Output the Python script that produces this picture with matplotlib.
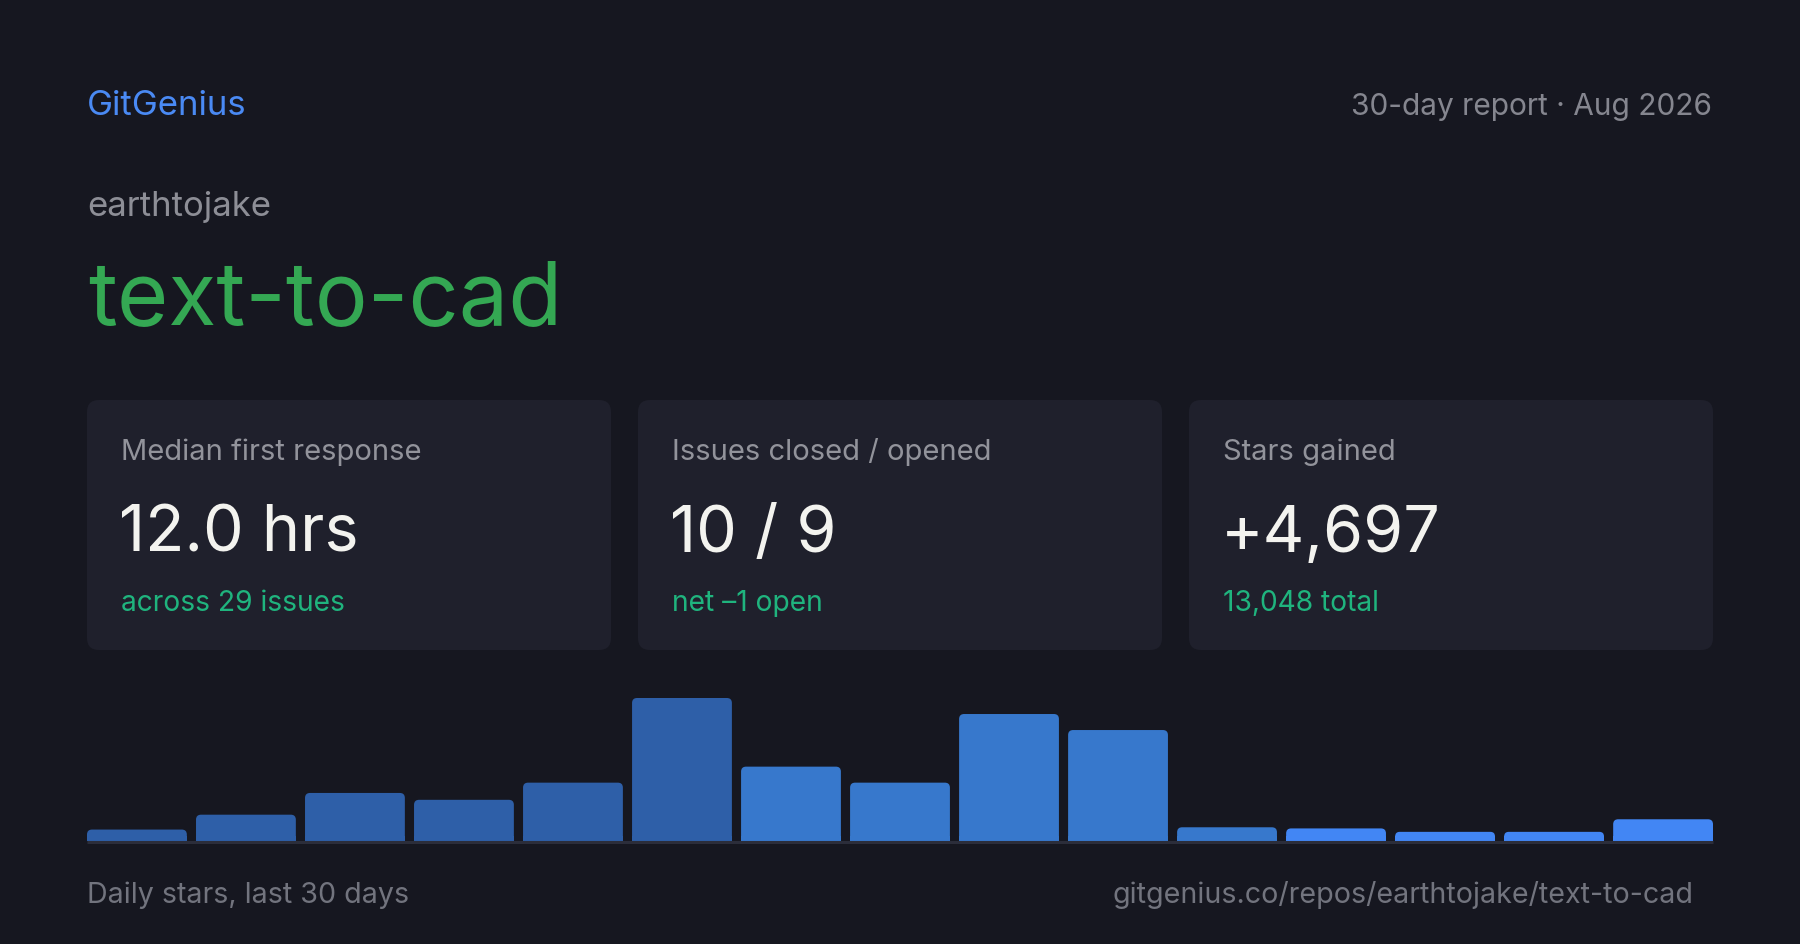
import matplotlib
matplotlib.use("Agg")
import matplotlib.pyplot as plt
from matplotlib.patches import FancyBboxPatch, Rectangle

plt.rcParams['font.family'] = ['Inter', 'DejaVu Sans']

# data
brand = "GitGenius"
report = "30-day report \u00b7 Aug 2026"
owner = "earthtojake"
repo = "text-to-cad"
card_labels = ["Median first response", "Issues closed / opened", "Stars gained"]
card_values = ["12.0 hrs", "10 / 9", "+4,697"]
card_notes = ["across 29 issues", "net \u20131 open", "13,048 total"]
daily_stars = [70, 161, 294, 252, 357, 875, 455, 357, 777, 679, 84, 77, 56, 56, 133]
bar_colors = ["#2e5fa8"] * 6 + ["#3778cc"] * 5 + ["#4286f4"] * 4
footer_left = "Daily stars, last 30 days"
footer_right = "gitgenius.co/repos/earthtojake/text-to-cad"

BG = "#161720"
CARD = "#1f202c"
W, H = 1800, 945

fig = plt.figure(figsize=(W / 100, H / 100), dpi=100, facecolor=BG)
bg = fig.add_axes([0, 0, 1, 1])
bg.set_xlim(0, W)
bg.set_ylim(H, 0)
bg.axis("off")
bg.set_facecolor(BG)

# header
bg.text(87, 115, brand, color="#4a8af4", fontsize=25, va="baseline")
bg.text(1712, 115, report, color="#85868f", fontsize=21.5, va="baseline", ha="right")
bg.text(87, 216, owner, color="#8d8e96", fontsize=25, va="baseline")
bg.text(88, 324, repo, color="#34a853", fontsize=63.5, va="baseline")

# cards
card_x = [87, 638, 1189]
card_w = 524
for i in range(3):
    x0 = card_x[i]
    bg.add_patch(FancyBboxPatch((x0, 401), card_w, 250,
                                boxstyle="round,pad=0,rounding_size=12",
                                fc=CARD, ec="none"))
    bg.text(x0 + 34, 460, card_labels[i], color="#92939b", fontsize=21, va="baseline")
    bg.text(x0 + 32, 552, card_values[i], color="#f3f3ef", fontsize=46.5, va="baseline")
    bg.text(x0 + 34, 611, card_notes[i], color="#1fb47e", fontsize=20.3, va="baseline")

# bar chart
x_left, x_right, base_y, top_y = 87, 1713, 842, 699
ax = fig.add_axes([x_left / W, 1 - base_y / H, (x_right - x_left) / W, (base_y - top_y) / H])
ax.set_facecolor("none")
ax.axis("off")
n = len(daily_stars)
bw = 87 / 95
bars = ax.bar(range(n), daily_stars, width=bw, color=bar_colors)
ax.set_xlim(-bw / 2, n - 1 + bw / 2)
ax.set_ylim(0, max(daily_stars))

fig.canvas.draw()
to_bg = bg.transData.inverted()
for rect, c in zip(bars, bar_colors):
    (px0, py0), (px1, py1) = to_bg.transform(
        ax.transData.transform([(rect.get_x(), 0), (rect.get_x() + rect.get_width(), rect.get_height())]))
    h = py0 - py1
    r = min(5, h / 2)
    bg.add_patch(FancyBboxPatch((px0, py1), px1 - px0, h,
                                boxstyle="round,pad=0,rounding_size=%g" % r,
                                fc=c, ec="none"))
    bg.add_patch(Rectangle((px0, py0 - r), px1 - px0, r, fc=c, ec="none"))
    rect.set_visible(False)

bg.plot([x_left, x_right], [843, 843], color="#2b2d3a", lw=2.2, solid_capstyle="butt")

# footer
bg.text(87, 903, footer_left, color="#72747e", fontsize=20.6, va="baseline")
bg.text(1694, 903, footer_right, color="#72747e", fontsize=20.6, va="baseline", ha="right")

fig.savefig("out.png", dpi=100, facecolor=BG)
